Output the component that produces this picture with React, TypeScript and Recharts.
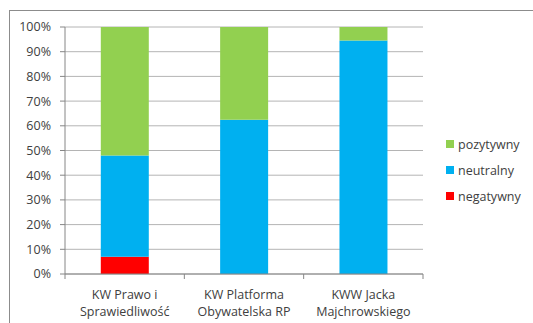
import { BarChart, Bar, XAxis, YAxis, CartesianGrid } from "recharts";

// share of mentions per committee, percent
const categories = ["KW Prawo i\nSprawiedliwość", "KW Platforma\nObywatelska RP", "KWW Jacka\nMajchrowskiego"];
const negatywny = [7, 0, 0];
const neutralny = [41, 62.5, 94.5];
const pozytywny = [52, 37.5, 5.5];
const yTicks = [0, 10, 20, 30, 40, 50, 60, 70, 80, 90, 100];

const data = categories.map((name, i) => ({
  name,
  negatywny: negatywny[i],
  neutralny: neutralny[i],
  pozytywny: pozytywny[i],
}));

const C = {
  poz: "#92d050",
  neu: "#00b0f0",
  neg: "#ff0000",
  grid: "#b4b4b4",
  axis: "#868686",
  text: "#404040",
};
const FONT = "'Open Sans', sans-serif";

function CatTick({ x, y, payload, index }: any) {
  const lines = String(payload.value).split("\n");
  const half = payload.offset ?? 0;
  return (
    <g>
      <line x1={x - half} x2={x - half} y1={y} y2={y + 5} stroke={C.axis} />
      {index === categories.length - 1 && (
        <line x1={x + half} x2={x + half} y1={y} y2={y + 5} stroke={C.axis} />
      )}
      <text x={x} y={y + 25} textAnchor="middle" fill={C.text} fontSize={12.5} fontFamily={FONT}>
        {lines.map((l, i) => (
          <tspan key={i} x={x} dy={i === 0 ? 0 : 17}>
            {l}
          </tspan>
        ))}
      </text>
    </g>
  );
}

function LegendBox() {
  const items = [
    { k: "pozytywny", c: C.poz },
    { k: "neutralny", c: C.neu },
    { k: "negatywny", c: C.neg },
  ];
  return (
    <div style={{ fontFamily: FONT, fontSize: 12.5, color: C.text }}>
      {items.map((it) => (
        <div key={it.k} style={{ display: "flex", alignItems: "center", height: 26 }}>
          <span style={{ width: 8, height: 8, background: it.c, marginRight: 4 }} />
          <span>{it.k}</span>
        </div>
      ))}
    </div>
  );
}

export default function App() {
  return (
    <div style={{ position: "fixed", left: 0, top: 0, width: 533, height: 323, background: "#fff" }}>
      <div
        style={{
          position: "absolute",
          left: 9,
          top: 10,
          right: 0,
          bottom: 0,
          borderLeft: "1.5px solid #8c8c8c",
          borderTop: "1.5px solid #8c8c8c",
        }}
      />
      <div style={{ position: "absolute", left: 0, top: 0 }}>
        <BarChart
          width={533}
          height={323}
          data={data}
          margin={{ top: 27, right: 110, bottom: 0, left: 0 }}
          barCategoryGap="30%"
        >
          <CartesianGrid horizontal vertical={false} stroke={C.grid} strokeWidth={1} />
          <XAxis
            dataKey="name"
            height={49}
            axisLine={{ stroke: C.axis }}
            tickLine={false}
            tickSize={0}
            tickMargin={0}
            tick={<CatTick />}
            interval={0}
          />
          <YAxis
            width={65}
            domain={[0, 100]}
            ticks={yTicks}
            tickFormatter={(v: number) => `${v}%`}
            axisLine={{ stroke: C.axis }}
            tickLine={{ stroke: C.axis }}
            tickSize={5}
            tickMargin={9}
            tick={{ fill: C.text, fontSize: 12.5, fontFamily: FONT }}
            interval={0}
          />
          <Bar dataKey="negatywny" stackId="a" fill={C.neg} isAnimationActive={false} />
          <Bar dataKey="neutralny" stackId="a" fill={C.neu} isAnimationActive={false} />
          <Bar dataKey="pozytywny" stackId="a" fill={C.poz} isAnimationActive={false} />
        </BarChart>
      </div>
      <div style={{ position: "absolute", left: 446, top: 131 }}>
        <LegendBox />
      </div>
    </div>
  );
}
